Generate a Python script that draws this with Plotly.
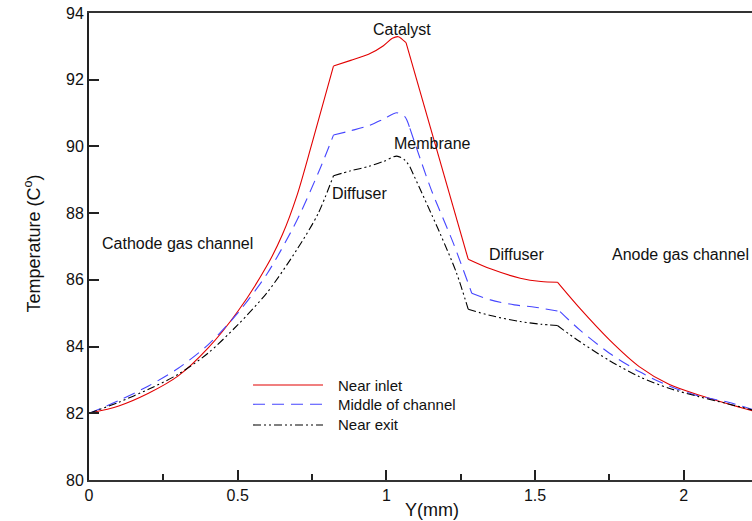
import plotly.graph_objects as go

# Temperature profiles across the cell (Y in mm, temperature in deg C)
inlet_y = [0, 0.1, 0.2, 0.3, 0.4, 0.5, 0.6, 0.65, 0.7, 0.75, 0.822, 0.88, 0.94, 0.99, 1.02,
           1.04, 1.066, 1.275, 1.35, 1.45, 1.52, 1.575, 1.65, 1.75, 1.85, 1.95, 2.05, 2.15, 2.23]
inlet_t = [82.0, 82.22, 82.6, 83.12, 83.95, 85.05, 86.45, 87.35, 88.55, 90.1, 92.41, 92.58,
           92.76, 93.02, 93.24, 93.29, 93.11, 86.62, 86.33, 86.05, 85.95, 85.93, 85.15, 84.2,
           83.4, 82.87, 82.55, 82.28, 82.08]

middle_y = [0, 0.1, 0.2, 0.3, 0.4, 0.5, 0.6, 0.7, 0.78, 0.822, 0.88, 0.94, 0.99, 1.035, 1.062,
            1.079, 1.15, 1.225, 1.287, 1.35, 1.43, 1.5, 1.584, 1.65, 1.75, 1.85, 1.95, 2.05,
            2.15, 2.23]
middle_t = [82.0, 82.38, 82.82, 83.35, 84.05, 85.0, 86.2, 87.8, 89.4, 90.34, 90.47, 90.62, 90.82,
            91.01, 90.89, 90.54, 88.72, 87.1, 85.6, 85.4, 85.25, 85.18, 85.05, 84.5, 83.8, 83.25,
            82.82, 82.52, 82.33, 82.12]

exit_y = [0, 0.1, 0.2, 0.3, 0.4, 0.5, 0.6, 0.7, 0.77, 0.822, 0.88, 0.94, 0.99, 1.035, 1.062,
          1.079, 1.18, 1.236, 1.275, 1.35, 1.45, 1.52, 1.575, 1.65, 1.75, 1.85, 1.95, 2.05,
          2.15, 2.23]
exit_t = [82.0, 82.33, 82.72, 83.17, 83.8, 84.65, 85.63, 86.92, 87.98, 89.12, 89.27, 89.4, 89.55,
          89.71, 89.59, 89.39, 87.4, 86.2, 85.12, 84.93, 84.75, 84.67, 84.63, 84.15, 83.58,
          83.1, 82.75, 82.5, 82.28, 82.1]

# Layer interfaces where each profile has a sharp corner
inlet_breaks = [0.822, 1.066, 1.275, 1.575]
middle_breaks = [0.822, 1.079, 1.287, 1.584]
exit_breaks = [0.822, 1.079, 1.275, 1.575]

series_names = ["Near inlet", "Middle of channel", "Near exit"]
series_colors = ["rgb(226,0,0)", "rgb(70,70,255)", "rgb(0,0,0)"]
series_dash = ["solid", "12px,7px", "8px,3px,2px,3px,2px,3px"]

x_ticks = [0, 0.5, 1, 1.5, 2]
y_ticks = [80, 82, 84, 86, 88, 90, 92, 94]

# Region labels placed in data coordinates: (text, x, y, xanchor)
region_labels = [
    ("Catalyst", 1.051, 93.51, "center"),
    ("Membrane", 1.155, 90.09, "center"),
    ("Diffuser", 0.911, 88.6, "center"),
    ("Diffuser", 1.438, 86.75, "center"),
    ("Anode gas channel", 1.752, 86.75, "left"),
    ("Cathode gas channel", 0.037, 87.1, "left"),
]

FONT = "Liberation Sans, Arial, sans-serif"


def split_at(xs, ys, breaks):
    """Split a profile into pieces that share their end points at the break positions."""
    pieces, cur_x, cur_y = [], [], []
    for x, y in zip(xs, ys):
        cur_x.append(x)
        cur_y.append(y)
        if x in breaks:
            pieces.append((cur_x, cur_y))
            cur_x, cur_y = [x], [y]
    if len(cur_x) > 1:
        pieces.append((cur_x, cur_y))
    return pieces


fig = go.Figure()
for xs, ts, brk, name, color, dash in zip([inlet_y, middle_y, exit_y],
                                          [inlet_t, middle_t, exit_t],
                                          [inlet_breaks, middle_breaks, exit_breaks],
                                          series_names, series_colors, series_dash):
    for px, py in split_at(xs, ts, brk):
        fig.add_trace(go.Scatter(x=px, y=py, mode="lines", name=name, showlegend=False,
                                 line=dict(color=color, width=1.1, dash=dash,
                                           shape="spline", smoothing=0.8)))

# Legend drawn as long line samples with labels
legend_rows = [0.2034, 0.1621, 0.1178]
for row_y, name, color, dash in zip(legend_rows, series_names, series_colors, series_dash):
    fig.add_shape(type="line", xref="paper", yref="paper", x0=0.2474, x1=0.353,
                  y0=row_y, y1=row_y, line=dict(color=color, width=1.1, dash=dash))
    fig.add_annotation(xref="paper", yref="paper", x=0.3725, y=row_y, text=name,
                       showarrow=False, xanchor="left", yanchor="middle",
                       font=dict(family=FONT, size=15, color="#111"))

for text, x, y, anchor in region_labels:
    fig.add_annotation(x=x, y=y, text=text, showarrow=False, xanchor=anchor,
                       yanchor="middle", font=dict(family=FONT, size=16, color="#111"))

# Axis titles
fig.add_annotation(xref="paper", yref="paper", x=0.5173, y=-0.0642, text="Y(mm)",
                   showarrow=False, xanchor="center", yanchor="middle",
                   font=dict(family=FONT, size=18, color="#111"))
fig.add_annotation(xref="paper", yref="paper", x=-0.0845, y=0.5064,
                   text="Temperature (C<sup>o</sup>)", textangle=-90,
                   showarrow=False, xanchor="center", yanchor="middle",
                   font=dict(family=FONT, size=18, color="#111"))

fig.update_xaxes(range=[0, 2.2293], tickvals=x_ticks, ticks="inside", ticklen=10,
                 tickwidth=1.5, tickcolor="#222", showline=True, linecolor="#333",
                 linewidth=2, mirror=True, showgrid=False, zeroline=False,
                 tickfont=dict(family=FONT, size=16, color="#111"),
                 minor=dict(dtick=0.25, tick0=0, ticks="inside", ticklen=6,
                            tickwidth=1.5, tickcolor="#222", showgrid=False))
fig.update_yaxes(range=[80, 94], tickvals=y_ticks, ticks="inside", ticklen=10,
                 tickwidth=1.5, tickcolor="#222", showline=True, linecolor="#222",
                 linewidth=2, showgrid=False, zeroline=False,
                 tickfont=dict(family=FONT, size=16, color="#111"))

fig.update_layout(width=752, height=521, margin=dict(l=89, r=0, t=13, b=41),
                  paper_bgcolor="white", plot_bgcolor="white", showlegend=False)

fig.write_html("out.html")
